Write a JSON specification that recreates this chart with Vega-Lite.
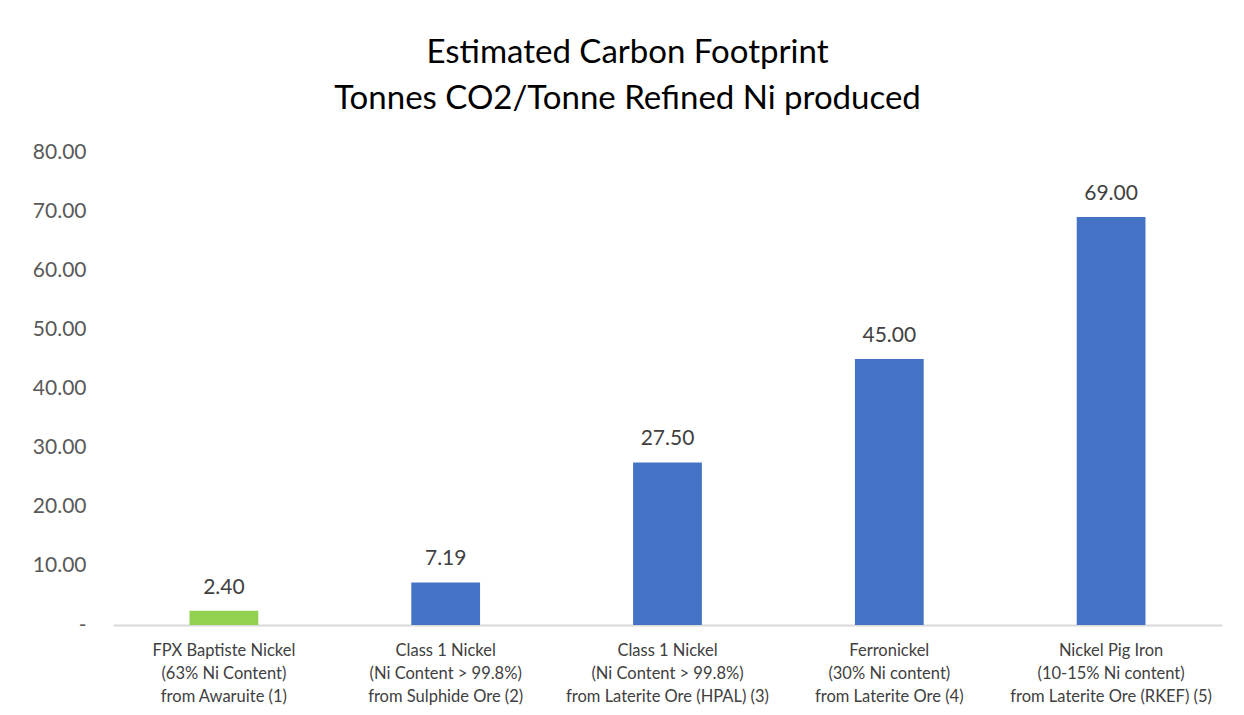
{
  "$schema": "https://vega.github.io/schema/vega-lite/v6.json",
  "autosize": "none",
  "width": 1109,
  "height": 473,
  "padding": {"left": 113, "top": 152, "right": 22, "bottom": 90},
  "background": "white",
  "title": {
    "text": ["Estimated Carbon Footprint", "Tonnes CO2/Tonne Refined Ni produced"],
    "anchor": "middle",
    "dx": -40,
    "offset": 25,
    "font": "Lato",
    "fontSize": 33,
    "fontWeight": "normal",
    "color": "#000000",
    "lineHeight": 46
  },
  "config": {
    "view": {"stroke": null},
    "font": "Lato"
  },
  "data": {
    "values": [
      {"cat": "FPX Baptiste Nickel|(63% Ni Content)|from Awaruite (1)", "value": 2.40, "grp": "FPX"},
      {"cat": "Class 1 Nickel|(Ni Content > 99.8%)|from Sulphide Ore (2)", "value": 7.19, "grp": "Other"},
      {"cat": "Class 1 Nickel|(Ni Content > 99.8%)|from Laterite Ore (HPAL) (3)", "value": 27.50, "grp": "Other"},
      {"cat": "Ferronickel|(30% Ni content)|from Laterite Ore (4)", "value": 45.00, "grp": "Other"},
      {"cat": "Nickel Pig Iron|(10-15% Ni content)|from Laterite Ore (RKEF) (5)", "value": 69.00, "grp": "Other"}
    ]
  },
  "encoding": {
    "x": {
      "field": "cat",
      "type": "nominal",
      "sort": null,
      "scale": {"paddingInner": 0.69, "paddingOuter": 0.345},
      "axis": {
        "title": null,
        "labelAngle": 0,
        "labelExpr": "split(datum.label, '|')",
        "labelFont": "Lato",
        "labelFontSize": 16.5,
        "labelLineHeight": 23,
        "labelLimit": 0,
        "labelColor": "#404040",
        "labelPadding": 17,
        "labelBaseline": "top",
        "ticks": false,
        "domainColor": "#d9d9d9",
        "domainWidth": 2
      }
    },
    "y": {
      "field": "value",
      "type": "quantitative",
      "scale": {"domain": [0, 80], "nice": false},
      "axis": {
        "title": null,
        "values": [0, 10, 20, 30, 40, 50, 60, 70, 80],
        "labelExpr": "datum.value == 0 ? '-' : format(datum.value, '.2f')",
        "labelFont": "Lato",
        "labelFontSize": 21,
        "labelColor": "#595959",
        "labelPadding": 27,
        "ticks": false,
        "domain": false,
        "grid": false
      }
    }
  },
  "layer": [
    {
      "mark": {"type": "bar"},
      "encoding": {
        "color": {
          "field": "grp",
          "type": "nominal",
          "scale": {"domain": ["FPX", "Other"], "range": ["#92D050", "#4472C4"]},
          "legend": null
        }
      }
    },
    {
      "mark": {"type": "text", "dy": -17, "baseline": "alphabetic", "fontSize": 21, "color": "#404040", "font": "Lato"},
      "encoding": {
        "text": {"field": "value", "type": "quantitative", "format": ".2f"}
      }
    }
  ]
}
